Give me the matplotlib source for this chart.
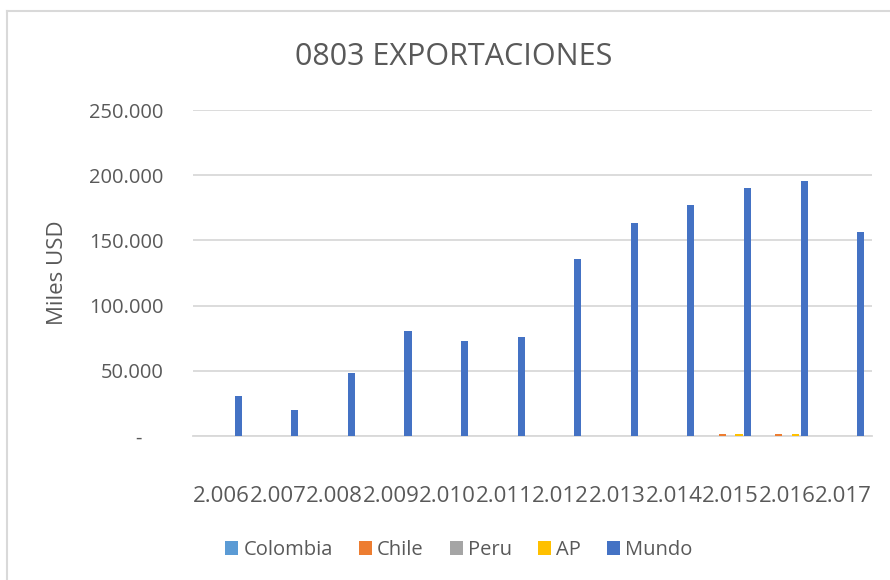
import numpy as np
import matplotlib
matplotlib.use('Agg')
import matplotlib.pyplot as plt
from matplotlib.ticker import FuncFormatter
from matplotlib.lines import Line2D

# Datos (miles USD)
anios = ['2.006', '2.007', '2.008', '2.009', '2.010', '2.011',
         '2.012', '2.013', '2.014', '2.015', '2.016', '2.017']
colombia = [0, 0, 0, 0, 0, 0, 0, 0, 0, 0, 0, 0]
chile = [0, 0, 0, 0, 0, 0, 0, 0, 0, 1500, 1500, 0]
peru = [0, 0, 0, 0, 0, 0, 0, 0, 0, 0, 0, 0]
ap = [0, 0, 0, 0, 0, 0, 0, 0, 0, 1500, 1500, 0]
mundo = [30700, 19900, 48600, 80800, 72900, 75900,
         135500, 163500, 177400, 190200, 195300, 156500]

series = ['Colombia', 'Chile', 'Peru', 'AP', 'Mundo']
valores = [colombia, chile, peru, ap, mundo]
colores = ['#5B9BD5', '#ED7D31', '#A5A5A5', '#FFC000', '#4472C4']

texto = '#595959'
plt.rcParams['font.family'] = ['Open Sans', 'DejaVu Sans']

fig = plt.figure(figsize=(8.9, 5.8), dpi=100)
ax = fig.add_axes([193 / 890, 1 - 436 / 580, 679 / 890, 326 / 580])

x = np.arange(len(anios))
paso = 0.15
ancho = 0.125
for i, (nombre, vals, col) in enumerate(zip(series, valores, colores)):
    ax.bar(x + (i - 2) * paso, vals, width=ancho, color=col, label=nombre, zorder=3)

ax.set_xlim(-0.5, len(anios) - 0.5)
ax.set_ylim(0, 250000)
ax.set_yticks(np.arange(0, 250001, 50000))
ax.set_xticks(x)
ax.set_xticklabels(anios)

def miles(v, pos):
    if v == 0:
        return '-    '
    return f'{int(v):,}'.replace(',', '.')

ax.yaxis.set_major_formatter(FuncFormatter(miles))
ax.grid(axis='y', color='#D9D9D9', linewidth=1.3, zorder=0)
for lado in ['top', 'right', 'left']:
    ax.spines[lado].set_visible(False)
ax.spines['bottom'].set_color('#D9D9D9')
ax.spines['bottom'].set_linewidth(1.3)
ax.tick_params(axis='y', length=0, pad=21, labelsize=14.5, labelcolor=texto)
ax.tick_params(axis='x', length=0, pad=36, labelsize=16, labelcolor=texto)

ax.set_ylabel('Miles USD', fontsize=16, color=texto)
ax.yaxis.set_label_coords(-0.184, 0.5)

fig.text(454 / 890, 1 - 57 / 580, '0803 EXPORTACIONES', fontsize=22,
         color=texto, ha='center', va='center')

fig.legend(loc='center', bbox_to_anchor=(459 / 890, 1 - 550 / 580), ncol=5,
           frameon=False, fontsize=14.5, labelcolor=texto,
           handlelength=0.65, handleheight=0.65, handletextpad=0.25,
           columnspacing=1.3)

# borde del grafico
fig.add_artist(Line2D([7 / 890, 7 / 890], [0, 1 - 11 / 580], color='#D9D9D9',
                      linewidth=1.5, transform=fig.transFigure))
fig.add_artist(Line2D([7 / 890, 1], [1 - 11 / 580, 1 - 11 / 580], color='#D9D9D9',
                      linewidth=1.5, transform=fig.transFigure))

fig.savefig('out.png', dpi=100)
